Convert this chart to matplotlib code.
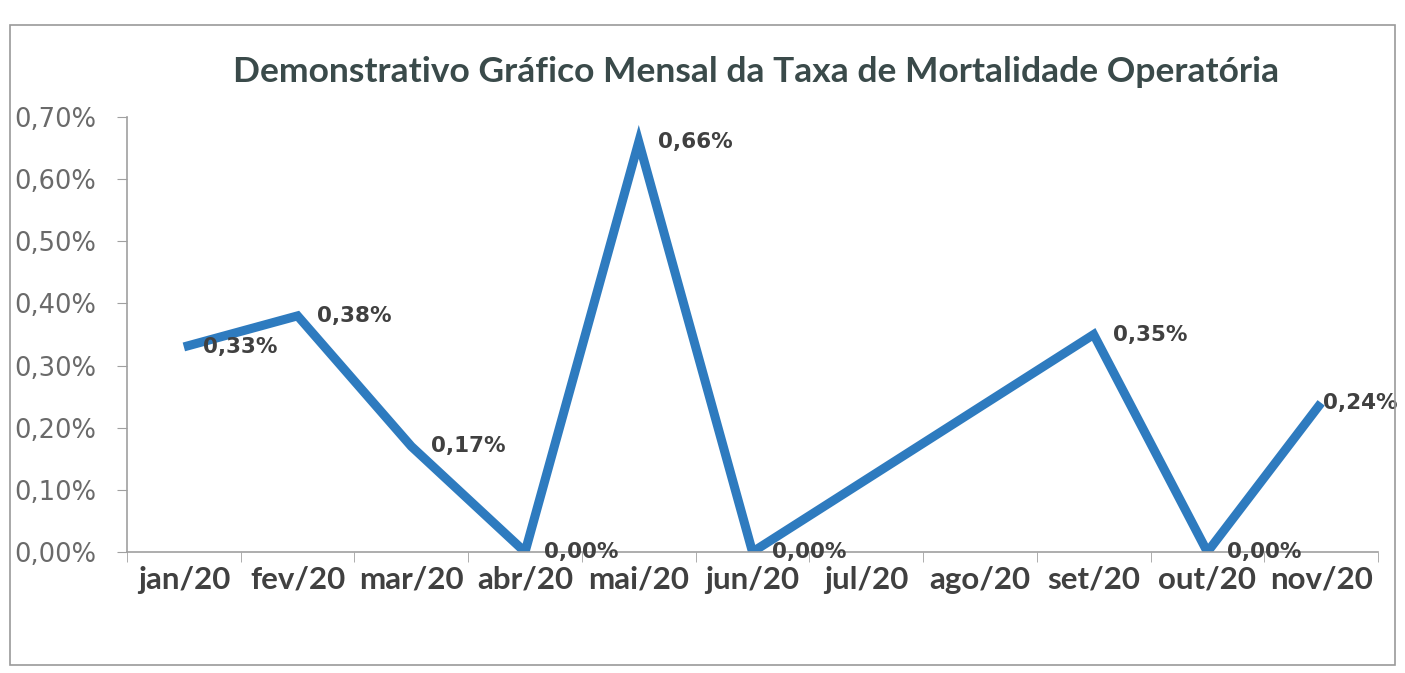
import numpy as np
import matplotlib
matplotlib.use("Agg")
import matplotlib.pyplot as plt
from matplotlib.patches import Rectangle

categories = ["jan/20", "fev/20", "mar/20", "abr/20", "mai/20", "jun/20",
              "jul/20", "ago/20", "set/20", "out/20", "nov/20"]
values = [0.33, 0.38, 0.17, 0.00, 0.66, 0.00, np.nan, np.nan, 0.35, 0.00, 0.24]
labels = ["0,33%", "0,38%", "0,17%", "0,00%", "0,66%", "0,00%", None, None,
          "0,35%", "0,00%", "0,24%"]
yticks = [0.0, 0.1, 0.2, 0.3, 0.4, 0.5, 0.6, 0.7]
title = "Demonstrativo Gráfico Mensal da Taxa de Mortalidade Operatória"

plt.rcParams['font.family'] = ['Lato', 'DejaVu Sans']

fig = plt.figure(figsize=(14.05, 6.73), dpi=100)
fig.patches.append(Rectangle((10/1405, 1-665/673), 1385/1405, 640/673,
                             transform=fig.transFigure, fill=False,
                             edgecolor="#9a9a9a", linewidth=1.2))
ax = fig.add_axes([127/1405, 1-552/673, (1378-127)/1405, (552-117)/673])

x = np.arange(len(categories))
v = np.array(values, dtype=float)
m = ~np.isnan(v)
ax.plot(x[m], v[m], color="#2E7BBF", linewidth=6.5,
        solid_joinstyle="miter", solid_capstyle="butt")

last = int(np.max(x[m]))
for xi, vi, lab in zip(x, v, labels):
    if lab is None or np.isnan(vi):
        continue
    off = 1 if xi == last else 14
    ax.annotate(lab, (xi, vi), xytext=(off, 0), textcoords="offset points",
                ha="left", va="center", fontsize=15.5, fontweight="bold",
                color="#404040", family="DejaVu Sans")

ax.set_xlim(-0.5, len(categories) - 0.5)
ax.set_ylim(0, 0.7)
ax.set_xticks(x)
ax.set_xticklabels(categories, fontsize=22.5, fontweight="bold", color="#404040")
ax.set_xticks(np.arange(-0.5, len(categories)), minor=True)
ax.tick_params(axis="x", which="major", length=0, pad=10)
ax.tick_params(axis="x", which="minor", length=7, color="#a0a0a0", direction="out")
ax.set_yticks(yticks)
ax.set_yticklabels([f"{t:.2f}%".replace(".", ",") for t in yticks],
                   fontsize=18.5, color="#6a6a6a", family="DejaVu Sans")
ax.tick_params(axis="y", length=7, color="#a0a0a0", pad=15)

for s in ["top", "right"]:
    ax.spines[s].set_visible(False)
for s in ["left", "bottom"]:
    ax.spines[s].set_color("#a0a0a0")
    ax.spines[s].set_linewidth(1.2)

fig.text(0.538, 1-72/673, title, ha="center", va="center", fontsize=25.5,
         fontweight="bold", color="#3a4a4a")

fig.savefig("out.png", dpi=100)
